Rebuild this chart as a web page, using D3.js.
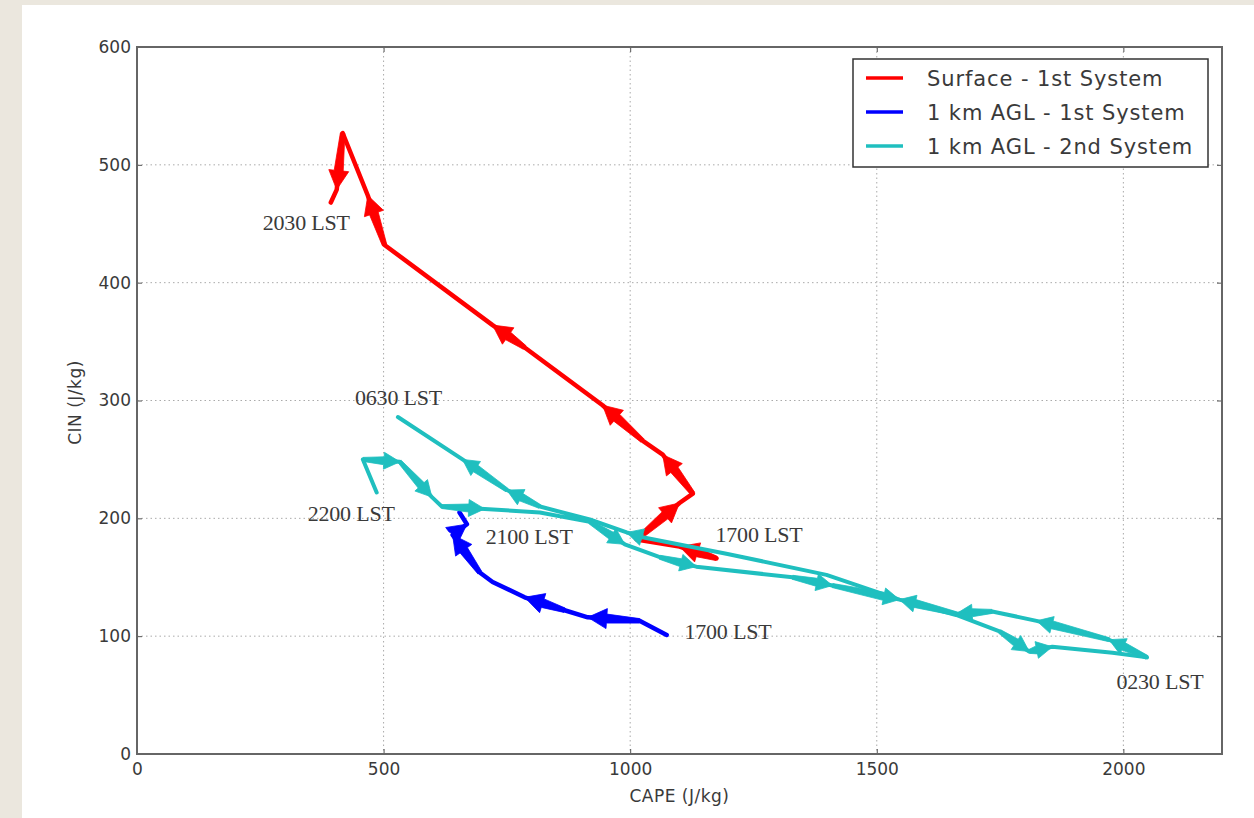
<!DOCTYPE html>
<html><head><meta charset="utf-8">
<script src="https://cdn.jsdelivr.net/npm/d3@7"></script>
<style>body{margin:0;background:#fff}svg{display:block}</style>
</head><body><svg id="c" width="1254" height="818"></svg>
<script>
// ---------- data ----------
const capeTicks = [0, 500, 1000, 1500, 2000];
const cinTicks = [0, 100, 200, 300, 400, 500, 600];
const seriesNames = ["Surface - 1st System", "1 km AGL - 1st System", "1 km AGL - 2nd System"];
const seriesColors = ["#ff0000", "#0000ff", "#1fbfbf"];

// Surface - 1st System (1700 LST -> 2030 LST)
const surfaceCAPE = [1175, 1100, 1013, 1100, 1127, 1066, 1025, 944, 786, 721, 502, 468, 417, 405, 393];
const surfaceCIN  = [166, 176, 182, 213, 221, 254, 266, 296, 345, 364, 432, 474, 527, 479, 468];
const surfaceArrows = [0, 2, 4, 6, 8, 10, 12];

// 1 km AGL - 1st System (1700 LST -> 2100 LST)
const agl1CAPE = [1074, 1019, 914, 867, 786, 721, 695, 640, 669, 654];
const agl1CIN  = [101, 113, 116, 122, 133, 146, 154, 186, 195, 205];
const agl1Arrows = [1, 3, 6, 7];

// 1 km AGL - 2nd System (2200 LST -> 0230 LST -> 0630 LST)
const agl2CAPE = [486, 458, 533, 598, 618, 705, 817, 918, 989, 1060, 1134, 1329, 1410, 1546, 1661, 1749, 1809, 1856, 1978, 2048,
                  1971, 1824, 1734, 1661, 1546, 1398, 1195, 1025, 993, 918, 817, 750, 660, 529];
const agl2CIN  = [222, 250, 248, 218, 210, 208, 205, 197, 178, 167, 159, 150, 143, 131, 118, 104, 87, 91, 86, 82,
                  97, 113, 121, 119, 131, 152, 170, 184, 188, 199, 210, 224, 250, 286];
const agl2Arrows = [1, 2, 4, 7, 9, 11, 12, 15, 16, 19, 20, 22, 23, 27, 30, 31];

// time labels (anchor in data units: CAPE, CIN)
const labelText = ["2030 LST", "0630 LST", "2200 LST", "2100 LST", "1700 LST", "1700 LST", "0230 LST"];
const labelCAPE = [255, 442, 346, 707, 1173, 1110, 1986];
const labelCIN  = [445, 296, 198, 178, 180, 98, 55];

// ---------- layout ----------
const svg = d3.select("#c");
const W = 1254, H = 818;
const mL = 137, mR = 1222, mT = 47, mB = 754;

svg.append("rect").attr("width", W).attr("height", H).attr("fill", "#ebe7de");
svg.append("rect").attr("x", 22).attr("y", 5).attr("width", W - 22).attr("height", H - 5).attr("fill", "#ffffff");

const x = d3.scaleLinear().domain([0, 2200]).range([mL, mR]);
const y = d3.scaleLinear().domain([0, 600]).range([mB, mT]);

// grid
const grid = svg.append("g").attr("stroke", "#aaaaaa").attr("stroke-width", 1).attr("stroke-dasharray", "1.5,3");
grid.selectAll("line.gx").data(capeTicks.filter(d => d > 0)).join("line").attr("class", "gx")
  .attr("x1", d => x(d)).attr("x2", d => x(d)).attr("y1", mT).attr("y2", mB);
grid.selectAll("line.gy").data(cinTicks.filter(d => d > 0 && d < 600)).join("line").attr("class", "gy")
  .attr("y1", d => y(d)).attr("y2", d => y(d)).attr("x1", mL).attr("x2", mR);

// axes with inward ticks
const axStyle = g => {
  g.selectAll("text").attr("font-family", "DejaVu Sans").attr("font-size", 17).attr("fill", "#3a3a3a");
  g.selectAll(".tick line").attr("stroke", "#555");
  g.select(".domain").remove();
};
svg.append("g").attr("transform", `translate(0,${mB})`)
  .call(d3.axisBottom(x).tickValues(capeTicks).tickFormat(d3.format("d")).tickSizeInner(-5).tickPadding(9))
  .call(axStyle);
svg.append("g").attr("transform", `translate(0,${mT})`)
  .call(d3.axisTop(x).tickValues(capeTicks).tickFormat("").tickSizeInner(-5))
  .call(axStyle);
svg.append("g").attr("transform", `translate(${mL},0)`)
  .call(d3.axisLeft(y).tickValues(cinTicks).tickFormat(d3.format("d")).tickSizeInner(-5).tickPadding(6))
  .call(axStyle);
svg.append("g").attr("transform", `translate(${mR},0)`)
  .call(d3.axisRight(y).tickValues(cinTicks).tickFormat("").tickSizeInner(-5))
  .call(axStyle);

// frame
svg.append("rect").attr("x", mL).attr("y", mT).attr("width", mR - mL).attr("height", mB - mT)
  .attr("fill", "none").attr("stroke", "#666").attr("stroke-width", 2);

// axis titles
svg.append("text").attr("x", (mL + mR) / 2).attr("y", 802).attr("text-anchor", "middle")
  .attr("font-family", "DejaVu Sans").attr("font-size", 17).attr("letter-spacing", 0.5).attr("fill", "#3a3a3a").text("CAPE (J/kg)");
svg.append("text").attr("transform", `translate(81,${(mT + mB) / 2 + 2}) rotate(-90)`).attr("text-anchor", "middle")
  .attr("font-family", "DejaVu Sans").attr("font-size", 17).attr("letter-spacing", 0.5).attr("fill", "#3a3a3a").text("CIN (J/kg)");

// series
const series = [
  {cape: surfaceCAPE, cin: surfaceCIN, arrows: surfaceArrows, color: seriesColors[0], w: 4.5, head: 19, hw: 20},
  {cape: agl1CAPE, cin: agl1CIN, arrows: agl1Arrows, color: seriesColors[1], w: 4.5, head: 19, hw: 20},
  {cape: agl2CAPE, cin: agl2CIN, arrows: agl2Arrows, color: seriesColors[2], w: 4, head: 16, hw: 17}
];

function arrowPoly(p0, p1, headLen, headW, w0, w1) {
  const dx = p1[0] - p0[0], dy = p1[1] - p0[1];
  const L = Math.hypot(dx, dy) || 1;
  const ux = dx / L, uy = dy / L, nx = -uy, ny = ux;
  const hl = Math.min(headLen, L * 0.9 + 6);
  const bx = p1[0] - ux * hl, by = p1[1] - uy * hl;
  const pts = [
    [p0[0] + nx * w0 / 2, p0[1] + ny * w0 / 2],
    [bx + nx * w1 / 2, by + ny * w1 / 2],
    [bx + nx * headW / 2, by + ny * headW / 2],
    [p1[0], p1[1]],
    [bx - nx * headW / 2, by - ny * headW / 2],
    [bx - nx * w1 / 2, by - ny * w1 / 2],
    [p0[0] - nx * w0 / 2, p0[1] - ny * w0 / 2]
  ];
  return "M" + pts.map(p => p[0].toFixed(1) + "," + p[1].toFixed(1)).join("L") + "Z";
}

series.forEach(s => {
  const pts = s.cape.map((c, i) => [x(c), y(s.cin[i])]);
  const g = svg.append("g");
  g.append("path").attr("d", d3.line()(pts)).attr("fill", "none").attr("stroke", s.color)
    .attr("stroke-width", s.w).attr("stroke-linejoin", "round").attr("stroke-linecap", "round");
  g.selectAll("path.arr").data(s.arrows).join("path").attr("class", "arr")
    .attr("d", i => arrowPoly(pts[i], pts[i + 1], s.head, s.hw, s.w, s.w * 2))
    .attr("fill", s.color).attr("stroke", s.color).attr("stroke-width", 0.8).attr("stroke-linejoin", "round");
});

// time labels
svg.append("g").selectAll("text").data(labelText).join("text")
  .attr("x", (d, i) => x(labelCAPE[i])).attr("y", (d, i) => y(labelCIN[i]))
  .attr("font-family", "Liberation Serif").attr("font-size", 22).attr("fill", "#3a3a3a")
  .attr("letter-spacing", "-0.2").text(d => d);

// legend
const lg = svg.append("g");
lg.append("rect").attr("x", 853).attr("y", 59).attr("width", 355).attr("height", 108)
  .attr("fill", "#fff").attr("stroke", "#333").attr("stroke-width", 1.5);
const rows = lg.selectAll("g.row").data(seriesNames).join("g").attr("class", "row")
  .attr("transform", (d, i) => `translate(0,${78 + i * 34})`);
rows.append("line").attr("x1", 866).attr("x2", 903).attr("stroke", (d, i) => seriesColors[i]).attr("stroke-width", 3.5);
rows.append("text").attr("x", 927).attr("y", 7.5).attr("font-family", "DejaVu Sans").attr("font-size", 21)
  .attr("letter-spacing", 0.9).attr("fill", "#3a3a3a").text(d => d);
</script></body></html>
